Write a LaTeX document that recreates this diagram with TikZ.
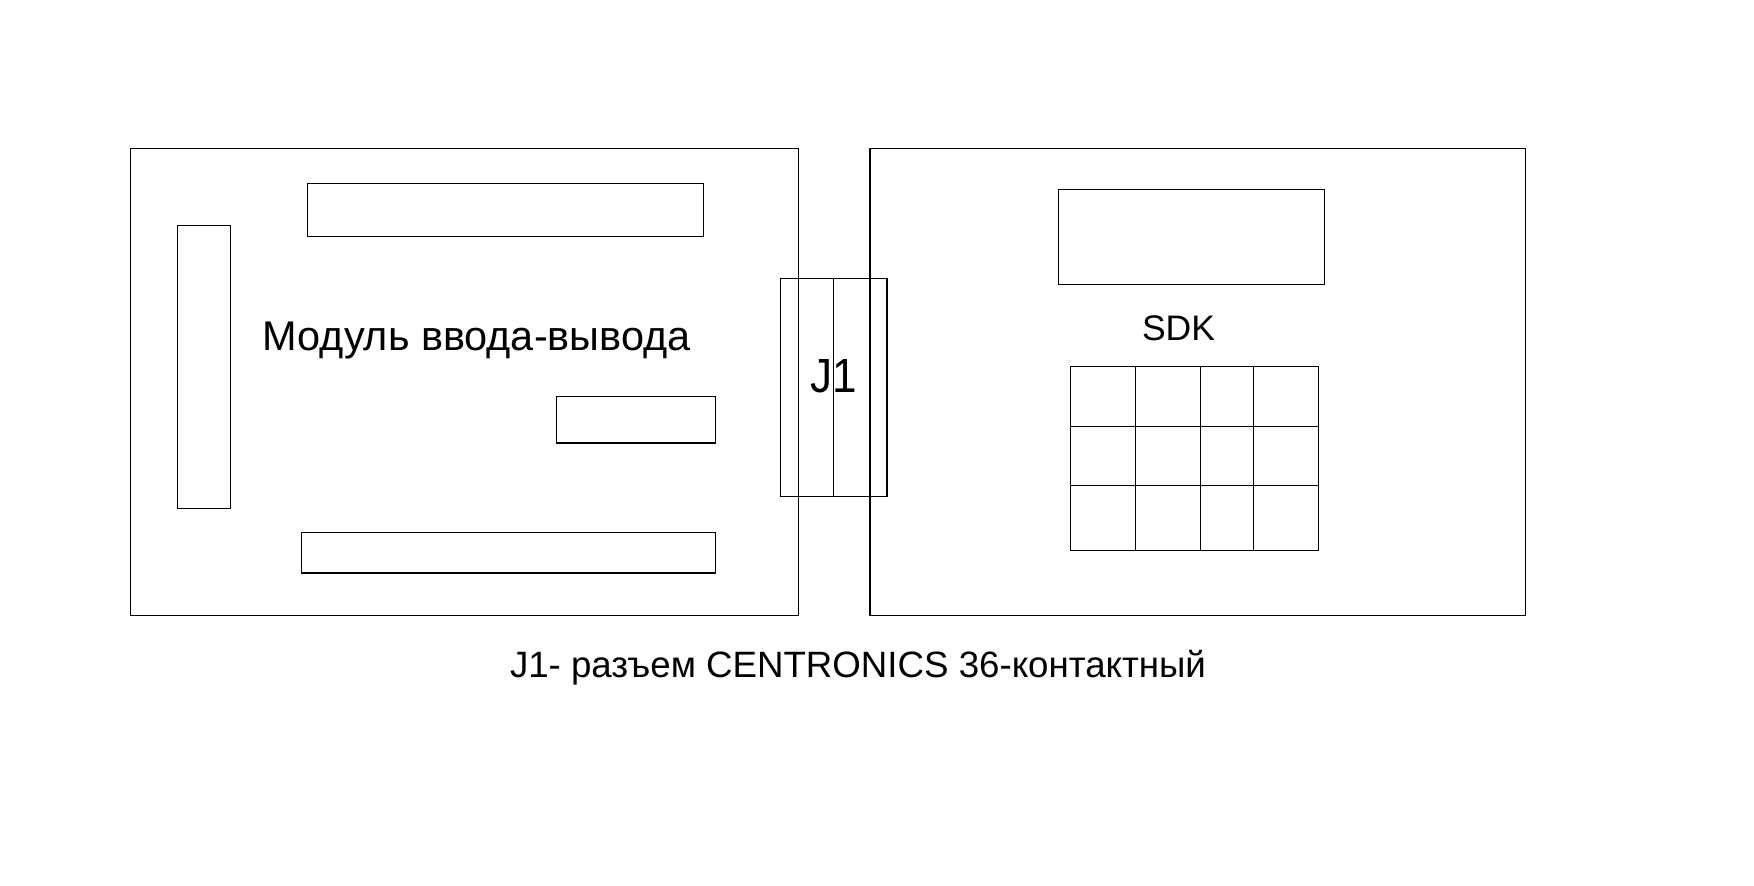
\documentclass[tikz,border=0pt]{standalone}
\usepackage{fontspec}
\setmainfont{Liberation Sans}
\usepackage{graphicx}
\begin{document}
\begin{tikzpicture}[x=1pt,y=-1pt,
  part/.style={draw=black,line width=1.5pt},
  lbl/.style={inner sep=0pt,outer sep=0pt,anchor=base west,text=black}]
\useasboundingbox[fill=white] (0,0) rectangle (1754,886);
% left module
\draw[part] (130.5,148.3) rectangle (798.5,615.3);
\draw[part] (307.7,183.3) rectangle (703.5,236.3);
\draw[part] (177.5,225.3) rectangle (230.3,508.3);
\draw[part] (556.6,396.3) rectangle (715.3,443);
\draw[part] (301.3,532.5) rectangle (715.3,573.2);
% right SDK board
\draw[part] (870,148.3) rectangle (1525.7,615.3);
\draw[part] (1058.3,189.3) rectangle (1324.3,284.3);
\draw[part] (1070.7,366.7) rectangle (1318.5,550.3);
\foreach \cx in {1135.3,1200.5,1253.5}
  \draw[part] (\cx,366.7) -- (\cx,550.3);
\foreach \ry in {426.3,485.3}
  \draw[part] (1070.7,\ry) -- (1318.5,\ry);
% connector J1
\draw[part] (780.3,278.3) rectangle (887,496.3);
\draw[part] (833.7,278.3) -- (833.7,496.3);
% texts
\node[lbl] (mod) at (262.7,350) {\resizebox{428pt}{!}{\fontsize{37}{40}\selectfont Модуль ввода-вывода}};
\node[lbl] (jone) at (810.5,392) {\resizebox{46.5pt}{33pt}{\fontsize{49}{52}\selectfont J1}};
\node[lbl] (sdk) at (1142,340.7) {\resizebox{73pt}{!}{\fontsize{36}{40}\selectfont SDK}};
\node[lbl] (cap) at (510,677.3) {\resizebox{696pt}{!}{\fontsize{33.5}{36}\selectfont J1- разъем CENTRONICS 36-контактный}};
\end{tikzpicture}
\end{document}
